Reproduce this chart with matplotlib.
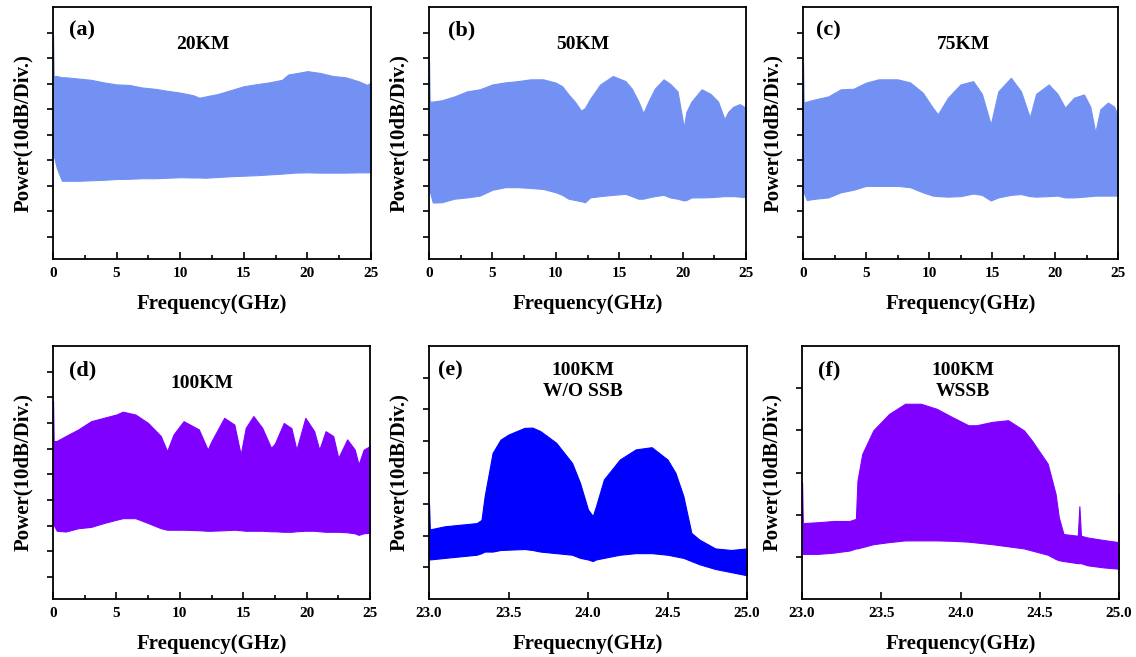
import numpy as np
import matplotlib
matplotlib.use("Agg")
import matplotlib.pyplot as plt
from matplotlib.ticker import MultipleLocator

plt.rcParams['font.family'] = ['Liberation Serif', 'DejaVu Serif']
plt.rcParams['font.weight'] = 'bold'

# power in divisions (10 dB/Div.), upper and lower envelope of each spectrum
a_f = [0, 0.05, 0.3, 0.7, 1, 2, 3, 4, 5, 6, 7, 8, 9, 10, 11, 11.5, 12, 13, 14, 15,
       16, 17, 18, 18.5, 19, 20, 21, 22, 23, 24, 24.7, 25]
a_up = [7.9, 6.3, 6.3, 6.25, 6.25, 6.2, 6.15, 6.05, 5.97, 5.95, 5.85, 5.8, 5.72, 5.65, 5.55,
        5.45, 5.5, 5.6, 5.75, 5.9, 5.98, 6.05, 6.15, 6.36, 6.4, 6.49, 6.42, 6.3, 6.25, 6.1, 5.95, 6.05]
a_lo = [3.3, 3.2, 2.7, 2.2, 2.2, 2.2, 2.22, 2.24, 2.27, 2.28, 2.3, 2.3, 2.32, 2.34, 2.33,
        2.33, 2.32, 2.35, 2.38, 2.4, 2.42, 2.45, 2.48, 2.5, 2.52, 2.53, 2.52, 2.52, 2.52, 2.53, 2.53, 2.53]

b_f = [0, 0.05, 0.3, 1, 2, 3, 4, 5, 6, 7, 8, 9, 10, 10.5, 11, 11.5, 12, 12.3, 12.7, 13.5,
       14.5, 15.5, 16, 16.5, 16.9, 17.3, 17.8, 18.5, 19, 19.6, 20.1, 20.3, 20.7, 21.5, 22.2,
       22.8, 23.3, 23.6, 24, 24.5, 25]
b_up = [6.9, 5.3, 5.3, 5.35, 5.5, 5.7, 5.78, 5.97, 6.05, 6.1, 6.17, 6.17, 6.04, 5.9, 5.58,
        5.3, 4.94, 5.05, 5.4, 5.97, 6.3, 6.1, 5.8, 5.32, 4.85, 5.3, 5.8, 6.17, 6.0, 5.7,
        4.29, 4.9, 5.3, 5.78, 5.6, 5.3, 4.61, 4.9, 5.1, 5.2, 5.06]
b_lo = [1.9, 1.8, 1.35, 1.36, 1.5, 1.55, 1.62, 1.85, 1.95, 1.95, 1.92, 1.88, 1.75, 1.65, 1.5,
        1.45, 1.4, 1.36, 1.55, 1.6, 1.65, 1.69, 1.6, 1.5, 1.5, 1.55, 1.6, 1.65, 1.55, 1.5,
        1.43, 1.45, 1.55, 1.55, 1.56, 1.58, 1.6, 1.6, 1.6, 1.58, 1.56]

c_f = [0, 0.05, 0.3, 1, 2, 3, 4, 5, 6, 7.5, 8.5, 9.5, 10.3, 10.7, 11.5, 12.5, 13.5, 14.2,
       14.9, 15.5, 16.5, 17.3, 18, 18.5, 19.5, 20.2, 20.8, 21.5, 22.3, 22.8, 23.2, 23.6,
       24.2, 24.7, 25]
c_up = [6.8, 5.26, 5.3, 5.39, 5.5, 5.78, 5.8, 6.04, 6.17, 6.17, 6.05, 5.65, 5.06, 4.8, 5.45,
        5.97, 6.1, 5.6, 4.4, 5.7, 6.23, 5.7, 4.68, 5.6, 5.97, 5.6, 5.06, 5.45, 5.58, 5.1,
        4.09, 5.0, 5.26, 5.1, 4.74]
c_lo = [1.8, 1.75, 1.45, 1.5, 1.55, 1.75, 1.85, 2.0, 2.0, 2.0, 1.95, 1.75, 1.62, 1.6, 1.58,
        1.6, 1.7, 1.65, 1.43, 1.55, 1.65, 1.68, 1.6, 1.58, 1.6, 1.62, 1.55, 1.55, 1.58, 1.6,
        1.62, 1.62, 1.62, 1.62, 1.62]

d_f = [0, 0.05, 0.3, 1, 2, 3, 4, 5, 5.5, 6.5, 7.5, 8.5, 9, 9.5, 10.3, 11.5, 12.2, 12.5, 13.5,
       14.3, 14.8, 15.2, 15.8, 16.5, 17.2, 17.5, 18.2, 18.8, 19.2, 19.9, 20.6, 21, 21.5,
       22.1, 22.5, 23.2, 23.8, 24.1, 24.5, 25]
d_up = [6.85, 5.29, 5.3, 5.49, 5.75, 6.07, 6.2, 6.33, 6.44, 6.33, 6.0, 5.49, 4.9, 5.55, 6.07,
        5.75, 4.96, 5.29, 6.2, 5.94, 4.77, 5.81, 6.27, 5.81, 5.03, 5.2, 6.0, 5.8, 4.96, 6.2,
        5.68, 4.96, 5.68, 5.49, 4.64, 5.36, 4.96, 4.38, 4.96, 5.1]
d_lo = [2.1, 2.03, 1.8, 1.77, 1.9, 1.95, 2.1, 2.23, 2.29, 2.29, 2.1, 1.9, 1.84, 1.84, 1.84,
        1.82, 1.8, 1.8, 1.82, 1.84, 1.82, 1.8, 1.8, 1.8, 1.78, 1.78, 1.76, 1.76, 1.78, 1.8,
        1.8, 1.78, 1.76, 1.76, 1.76, 1.74, 1.7, 1.64, 1.7, 1.72]

e_f = [23.0, 23.005, 23.1, 23.2, 23.3, 23.33, 23.35, 23.4, 23.45, 23.5, 23.6, 23.65, 23.7,
       23.8, 23.9, 23.95, 24.0, 24.03, 24.05, 24.1, 24.2, 24.3, 24.4, 24.5, 24.55, 24.6,
       24.65, 24.7, 24.8, 24.9, 25.0]
e_up = [3.0, 2.2, 2.3, 2.35, 2.4, 2.5, 3.25, 4.62, 5.04, 5.2, 5.41, 5.42, 5.31, 4.94, 4.3,
        3.67, 2.83, 2.62, 2.93, 3.78, 4.41, 4.73, 4.8, 4.41, 3.99, 3.25, 2.09, 1.88, 1.6, 1.55, 1.6]
e_lo = [1.3, 1.25, 1.3, 1.35, 1.4, 1.45, 1.5, 1.5, 1.55, 1.56, 1.58, 1.55, 1.5, 1.45, 1.4,
        1.3, 1.25, 1.2, 1.25, 1.3, 1.4, 1.45, 1.45, 1.4, 1.35, 1.3, 1.2, 1.1, 0.95, 0.85, 0.75]

f_f = [23.0, 23.005, 23.1, 23.2, 23.3, 23.34, 23.35, 23.38, 23.45, 23.55, 23.65, 23.75,
       23.85, 23.95, 24.05, 24.1, 24.2, 24.3, 24.4, 24.45, 24.55, 24.6, 24.62, 24.65, 24.74,
       24.75, 24.76, 24.8, 24.9, 24.995, 25.0]
f_up = [2.77, 1.8, 1.82, 1.85, 1.85, 1.9, 2.81, 3.44, 4.0, 4.39, 4.63, 4.63, 4.51, 4.31, 4.12,
        4.12, 4.2, 4.24, 4.0, 3.76, 3.21, 2.49, 1.94, 1.54, 1.5, 2.2, 1.5, 1.46, 1.4, 1.35, 2.5]
f_lo = [1.1, 1.07, 1.07, 1.1, 1.15, 1.2, 1.2, 1.23, 1.3, 1.35, 1.39, 1.39, 1.39, 1.38, 1.36,
        1.34, 1.3, 1.25, 1.2, 1.15, 1.05, 0.95, 0.92, 0.9, 0.85, 0.85, 0.85, 0.8, 0.75, 0.72, 0.71]

light = '#7391f2'
purple = '#8000ff'
blue = '#0000ff'

panels = [
    # f, up, lo, color, tag, title, pos, xlabel, kind
    (a_f, a_up, a_lo, light, '(a)', '20KM', [53, 7, 318, 252], 'Frequency(GHz)', 'wide'),
    (b_f, b_up, b_lo, light, '(b)', '50KM', [429, 7, 317, 252], 'Frequency(GHz)', 'wide'),
    (c_f, c_up, c_lo, light, '(c)', '75KM', [803, 7, 315, 252], 'Frequency(GHz)', 'wide'),
    (d_f, d_up, d_lo, purple, '(d)', '100KM', [53, 346, 317, 253], 'Frequency(GHz)', 'wide'),
    (e_f, e_up, e_lo, blue, '(e)', '100KM\nW/O SSB', [429, 346, 318, 253], 'Frequecny(GHz)', 'zoom_e'),
    (f_f, f_up, f_lo, purple, '(f)', '100KM\nWSSB', [802, 346, 317, 253], 'Frequency(GHz)', 'zoom_f'),
]
tag_x = [0.091, 0.104, 0.08, 0.095, 0.066, 0.085]
title_x = [0.47, 0.486, 0.51, 0.47, 0.484, 0.508]

W, H = 1136, 657
fig = plt.figure(figsize=(W / 100, H / 100), dpi=100)

for i, (f, up, lo, col, tag, title, pos, xl, kind) in enumerate(panels):
    l, t, w, h = pos
    ax = fig.add_axes([l / W, 1 - (t + h) / H, w / W, h / H])
    ax.fill_between(f, lo, up, color=col, lw=0.8, edgecolor=col)
    if kind == 'wide':
        ax.set_xlim(0, 25)
        ax.set_ylim(-0.86, 9.0)
        ax.set_yticks(np.arange(0, 9))
        ax.set_xticks([0, 5, 10, 15, 20, 25])
        ax.set_xticklabels(['0', '5', '10', '15', '20', '25'])
        ax.xaxis.set_minor_locator(MultipleLocator(2.5))
    else:
        ax.set_xlim(23.0, 25.0)
        ax.set_xticks([23.0, 23.5, 24.0, 24.5, 25.0])
        ax.set_xticklabels(['23.0', '23.5', '24.0', '24.5', '25.0'])
        if kind == 'zoom_e':
            ax.set_ylim(0, 8)
            ax.set_yticks(np.arange(1, 8))
        else:
            ax.set_ylim(0, 6)
            ax.set_yticks(np.arange(1, 6))
    ax.tick_params(axis='y', direction='out', length=4, width=1.2, labelleft=False)
    ax.tick_params(axis='x', which='major', direction='in', length=5, width=1.2,
                   labelsize=11, pad=6)
    ax.tick_params(axis='x', which='minor', direction='in', length=3, width=1.2)
    for lab in ax.get_xticklabels():
        lab.set_fontweight('bold')
    for s in ax.spines.values():
        s.set_linewidth(1.3)
    ax.set_xlabel(xl, fontsize=15, fontweight='bold', labelpad=10)
    ax.set_ylabel('Power(10dB/Div.)', fontsize=15, fontweight='bold', labelpad=10)
    ax.text(tag_x[i], 0.905, tag, transform=ax.transAxes, ha='center', va='center',
            fontsize=16, fontweight='bold')
    if '\n' in title:
        top, bot = title.split('\n')
        ax.text(title_x[i], 0.905, top, transform=ax.transAxes, ha='center', va='center',
                fontsize=14, fontweight='bold')
        ax.text(title_x[i], 0.82, bot, transform=ax.transAxes, ha='center', va='center',
                fontsize=14, fontweight='bold')
    else:
        ax.text(title_x[i], 0.85, title, transform=ax.transAxes, ha='center', va='center',
                fontsize=14, fontweight='bold')

fig.savefig('out.png', dpi=100)
